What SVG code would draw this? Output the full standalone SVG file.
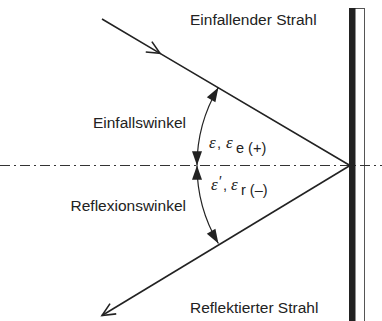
<svg xmlns="http://www.w3.org/2000/svg" width="382" height="321" viewBox="0 0 382 321">
<style>
.lbl{font-family:"Liberation Sans",Arial,sans-serif;font-size:15.5px;fill:#222}
.eps{font-family:"Liberation Serif","Times New Roman",serif;font-style:italic;font-size:17px;fill:#222}
.sub{font-family:"Liberation Sans",Arial,sans-serif;font-size:14.5px;fill:#222}
.ray{stroke:#222;stroke-width:1.6;fill:none}
.arc{stroke:#222;stroke-width:1.2;fill:none}
.axis{stroke:#333;stroke-width:1;stroke-dasharray:10 4 2 4;fill:none}
</style>
<defs>
<marker id="open" markerUnits="userSpaceOnUse" markerWidth="20" markerHeight="20" refX="0" refY="0" viewBox="-16 -10 20 20" orient="auto" overflow="visible">
<path d="M-13,-6 L0,0 L-13,6" fill="none" stroke="#222" stroke-width="1.6"/>
</marker>
<marker id="fill" markerUnits="userSpaceOnUse" markerWidth="20" markerHeight="20" refX="0" refY="0" viewBox="-12 -6 14 12" orient="auto-start-reverse" overflow="visible">
<path d="M-10,-3.5 L0,0 L-10,3.5 Z" fill="#222"/>
</marker>
</defs>
<g id="mirror">
<rect x="349.5" y="8.5" width="15" height="320" fill="#fff" stroke="#555" stroke-width="1"/>
</g>
<g id="connectors">
<line class="axis" x1="0" y1="165.5" x2="382" y2="165.5"/>
<path class="ray" d="M102,19 L160,53.4 L350,165.5" marker-mid="url(#open)"/>
<path class="ray" d="M350,165.5 L102,315.5" marker-end="url(#open)"/>
<path class="arc" d="M218.4,87.5 A153,153 0 0 0 197,165.5" marker-start="url(#fill)" marker-end="url(#fill)"/>
<path class="arc" d="M197,165.5 A153,153 0 0 0 218.4,243.5" marker-start="url(#fill)" marker-end="url(#fill)"/>
</g>
<g id="mirror-bar">
<rect x="349" y="8" width="6.5" height="313" fill="#222"/>
</g>
<g id="labels">
<text class="lbl" x="190" y="25">Einfallender Strahl</text>
<text class="lbl" x="186" y="128" text-anchor="end">Einfallswinkel</text>
<text class="lbl" x="186" y="210.5" text-anchor="end">Reflexionswinkel</text>
<text class="lbl" x="190" y="313">Reflektierter Strahl</text>
</g>
<g id="angle-in">
<text class="eps" x="209" y="148">ε</text>
<text class="sub" x="217" y="148">,</text>
<text class="eps" x="226" y="148">ε</text>
<text class="sub" x="236" y="153">e (+)</text>
</g>
<g id="angle-out">
<text class="eps" x="211" y="190">ε</text>
<text class="sub" x="219" y="186">′</text>
<text class="sub" x="223" y="190">,</text>
<text class="eps" x="231" y="190">ε</text>
<text class="sub" x="241" y="195">r (–)</text>
</g>
</svg>
